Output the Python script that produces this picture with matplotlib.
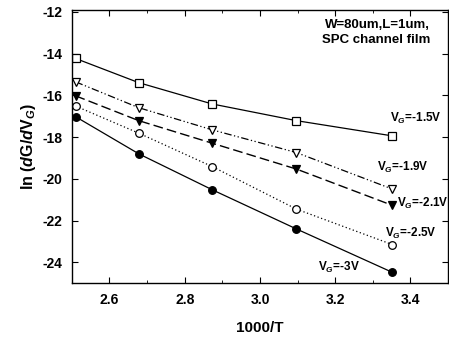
import matplotlib
matplotlib.use("Agg")
import matplotlib.pyplot as plt
from matplotlib.ticker import MultipleLocator

plt.rcParams['font.family'] = ['Liberation Sans', 'DejaVu Sans']
plt.rcParams['mathtext.fontset'] = 'custom'
plt.rcParams['mathtext.rm'] = 'Liberation Sans:bold'
plt.rcParams['mathtext.it'] = 'Liberation Sans:bold:italic'
plt.rcParams['mathtext.bf'] = 'Liberation Sans:bold'

x = [2.51, 2.678, 2.873, 3.097, 3.352]
y_15 = [-14.23, -15.39, -16.41, -17.21, -17.94]
y_19 = [-15.35, -16.59, -17.65, -18.74, -20.49]
y_21 = [-16.02, -17.21, -18.29, -19.53, -21.27]
y_25 = [-16.51, -17.81, -19.41, -21.45, -23.15]
y_30 = [-17.02, -18.80, -20.52, -22.40, -24.48]

labels = ["V$_G$=-1.5V", "V$_G$=-1.9V", "V$_G$=-2.1V", "V$_G$=-2.5V", "V$_G$=-3V"]
x_ticks = [2.6, 2.8, 3.0, 3.2, 3.4]
y_ticks = [-24, -22, -20, -18, -16, -14, -12]

fig = plt.figure(figsize=(4.49, 3.40), dpi=100)
ax = fig.add_axes([0.160, 0.167, 0.838, 0.804])

ms = 5.5
ax.plot(x, y_15, color='black', lw=0.9, ls='-', marker='s', mfc='white', mec='black', ms=ms, mew=0.9)
ax.plot(x, y_19, color='black', lw=0.9, ls=(0, (6, 2, 1, 2, 1, 2)), marker='v', mfc='white', mec='black', ms=ms, mew=0.9)
ax.plot(x, y_21, color='black', lw=1.0, ls=(0, (7, 3)), marker='v', mfc='black', mec='black', ms=ms, mew=0.9)
ax.plot(x, y_25, color='black', lw=0.9, ls=(0, (1, 2)), marker='o', mfc='white', mec='black', ms=ms, mew=0.9)
ax.plot(x, y_30, color='black', lw=0.9, ls='-', marker='o', mfc='black', mec='black', ms=ms, mew=0.9)

ax.set_xlim(2.5, 3.5)
ax.set_ylim(-25, -11.9)
ax.set_xticks(x_ticks)
ax.set_xticklabels([f"{v:.1f}" for v in x_ticks])
ax.set_yticks(y_ticks)
ax.set_yticklabels([f"{v}" for v in y_ticks])
ax.xaxis.set_minor_locator(MultipleLocator(0.1))
ax.tick_params(direction='in', which='both', top=True, right=True, labelsize=10, pad=7)
ax.tick_params(which='major', length=4)
ax.tick_params(which='minor', length=2)
for lab in ax.get_xticklabels() + ax.get_yticklabels():
    lab.set_fontweight('bold')
for s in ax.spines.values():
    s.set_linewidth(1.0)

ax.set_xlabel("1000/T", fontsize=11, fontweight='bold', labelpad=10)
ax.set_ylabel("ln ($d$G/$d$V$_G$)", fontsize=11.5, fontweight='bold', labelpad=3)

ax.text(3.452, -12.99, "W=80um,L=1um,\nSPC channel film", ha='right', va='center',
        fontsize=9.5, fontweight='bold', linespacing=1.3)

tx = [3.346, 3.311, 3.364, 3.332, 3.154]
ty = [-17.08, -19.47, -21.19, -22.63, -24.25]
for t, xx, yy in zip(labels, tx, ty):
    ax.text(xx, yy, t, fontsize=8.5, fontweight='bold', ha='left', va='center')

fig.savefig("out.png", dpi=100)
